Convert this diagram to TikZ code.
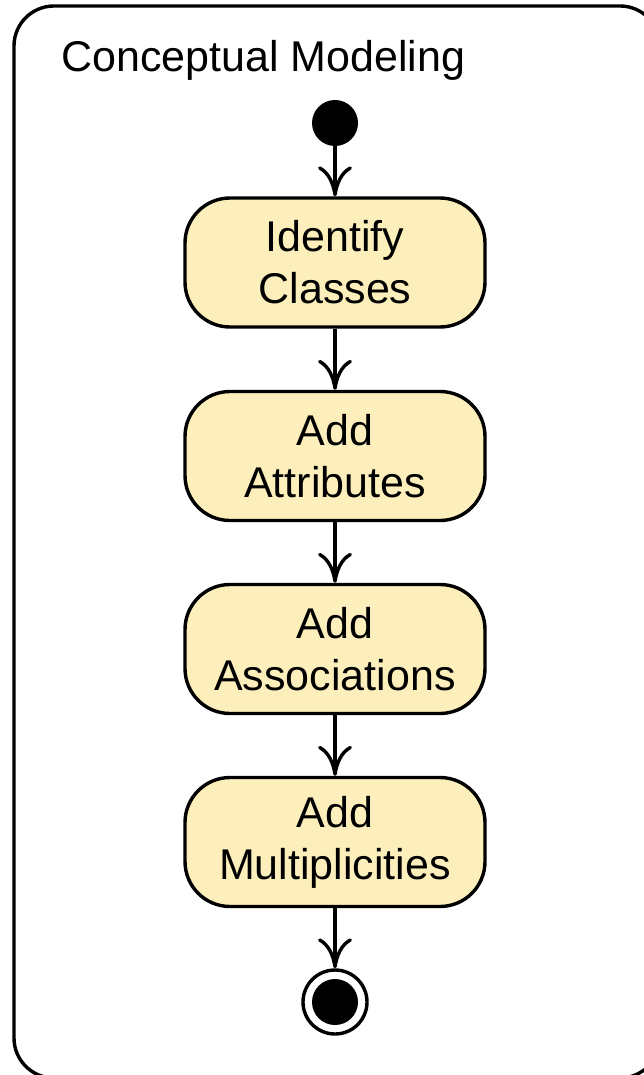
\documentclass[tikz,border=0pt]{standalone}
\usepackage{fontspec}
\setmainfont{Liberation Sans}
\usetikzlibrary{arrows.meta}
\definecolor{actfill}{RGB}{253,239,188}
\newcommand{\labelfont}{\fontsize{43}{52}\selectfont}
\tikzset{
  frameline/.style={draw, line width=3.4pt, rounded corners=40pt, inner sep=0pt},
  activity/.style={draw, line width=3.4pt, fill=actfill, rounded corners=45pt,
    minimum width=300pt, minimum height=129pt, inner sep=0pt, align=center,
    font=\labelfont},
  flow/.style={line width=3.4pt, -{Computer Modern Rightarrow[length=30pt,width=34pt,line width=3.4pt]}},
  startstate/.style={circle, fill=black, minimum size=46pt, inner sep=0pt},
  endring/.style={circle, draw, line width=3.4pt, minimum size=64pt, inner sep=0pt},
  enddot/.style={circle, fill=black, minimum size=46pt, inner sep=0pt},
}
\begin{document}
\begin{tikzpicture}[x=1pt,y=-1pt]
  \path[use as bounding box, clip] (0,0) rectangle (644,1075);
  \fill[white] (0,0) rectangle (644,1075);

  % enclosing activity frame and its name
  \node[frameline, minimum width=646pt, minimum height=1072pt] (frame) at (337,542) {};
  \node[anchor=base west, inner sep=0pt, font=\labelfont] (title) at (61,72) {Conceptual Modeling};

  % states and actions
  \node[startstate] (start) at (335,123) {};
  \node[activity] (classes) at (335,262.5) {Identify\\Classes};
  \node[activity] (attrs) at (335,456) {Add\\Attributes};
  \node[activity] (assocs) at (335,649) {Add\\Associations};
  \node[activity] (mult) at (335,842) {Add\\Multiplicities};
  \node[endring] (stop) at (335,1002) {};
  \node[enddot] (stopdot) at (stop.center) {};

  % control flow
  \draw[flow] (start) -- (classes);
  \draw[flow] (classes) -- (attrs);
  \draw[flow] (attrs) -- (assocs);
  \draw[flow] (assocs) -- (mult);
  \draw[flow] (mult) -- (stop);
\end{tikzpicture}
\end{document}
